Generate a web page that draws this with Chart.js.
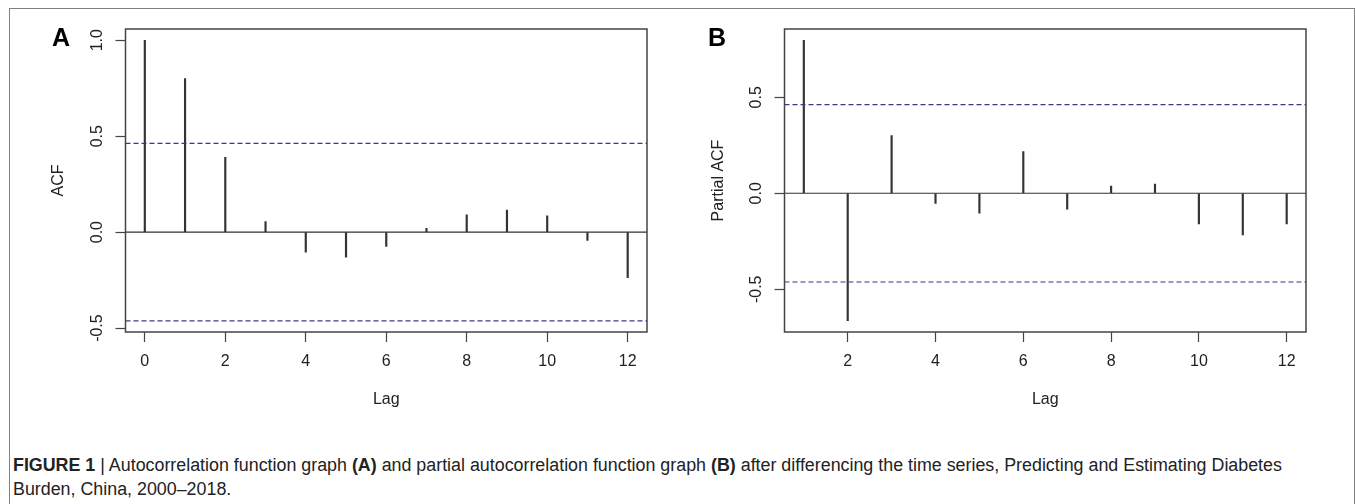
<!DOCTYPE html>
<html>
<head>
<meta charset="utf-8">
<script src="https://cdn.jsdelivr.net/npm/chart.js@4.4.0/dist/chart.umd.min.js"></script>
<style>
html,body{margin:0;padding:0;background:#fff;}
body{width:1355px;height:504px;position:relative;overflow:hidden;font-family:"Liberation Sans",Arial,sans-serif;}
#frame{position:absolute;left:9px;top:8px;width:1346px;height:540px;border:1.5px solid #808080;box-sizing:border-box;}
.wrap{position:absolute;top:0;height:440px;}
#wrapA{left:0;width:677px;}
#wrapB{left:677px;width:678px;}
.tag{position:absolute;top:25px;font:bold 25px/25px "Liberation Sans",Arial,sans-serif;color:#000;}
.cap{position:absolute;left:13px;font-size:17.85px;line-height:20px;color:#222;white-space:nowrap;}
</style>
</head>
<body>
<div id="frame"></div>
<div class="wrap" id="wrapA"><canvas id="chartA" width="677" height="440"></canvas></div>
<div class="wrap" id="wrapB"><canvas id="chartB" width="678" height="440"></canvas></div>
<div class="tag" style="left:52px">A</div>
<div class="tag" style="left:708px">B</div>
<div class="cap" style="top:455px"><b>FIGURE 1</b> | Autocorrelation function graph <b>(A)</b> and partial autocorrelation function graph <b>(B)</b> after differencing the time series, Predicting and Estimating Diabetes</div>
<div class="cap" style="top:479px">Burden, China, 2000–2018.</div>
<script>
// ================== Data ==================
const lagsA = [0, 1, 2, 3, 4, 5, 6, 7, 8, 9, 10, 11, 12];
const acfA = [1.0, 0.80, 0.39, 0.055, -0.105, -0.13, -0.075, 0.02, 0.09, 0.115, 0.085, -0.043, -0.238];
const lagsB = [1, 2, 3, 4, 5, 6, 7, 8, 9, 10, 11, 12];
const pacfB = [0.797, -0.664, 0.30, -0.053, -0.103, 0.217, -0.083, 0.038, 0.048, -0.16, -0.217, -0.16];
const climA = 0.462;
const climB = 0.462;
const xTicksA = [0, 2, 4, 6, 8, 10, 12];
const xTicksB = [2, 4, 6, 8, 10, 12];
const yTicksA = [-0.5, 0, 0.5, 1.0];
const yTicksB = [-0.5, 0, 0.5];

// R style axis range: data range stretched by 4% each side
function rRange(vals){
  const lo = Math.min(...vals), hi = Math.max(...vals);
  const d = (hi - lo) * 0.04;
  return [lo - d, hi + d];
}

const FONT = '"Liberation Sans", Arial, sans-serif';
const INK = '#222';
const FS = 16;

// box round the plot + rotated y tick labels (R look)
const boxAndLabels = {
  id: 'boxAndLabels',
  afterDraw(chart){
    const { ctx, chartArea: a, scales: { y } } = chart;
    ctx.save();
    ctx.strokeStyle = '#444'; ctx.lineWidth = 1.5;
    ctx.strokeRect(a.left, a.top, a.right - a.left, a.bottom - a.top);
    ctx.fillStyle = INK; ctx.font = FS + 'px ' + FONT;
    ctx.textAlign = 'center'; ctx.textBaseline = 'middle';
    y.ticks.forEach(t => {
      ctx.save();
      ctx.translate(a.left - 27.5, y.getPixelForValue(t.value));
      ctx.rotate(-Math.PI / 2);
      ctx.fillText(t.value.toFixed(1), 0, 0);
      ctx.restore();
    });
    ctx.restore();
  }
};

function makePanel(id, lags, vals, clim, xTicks, yTicks, yTitle, o){
  const [xMin, xMax] = rRange(lags);
  const [yMin, yMax] = rRange(vals.concat([clim, -clim]));
  const hline = (v, color, dash) => ({
    type: 'line',
    data: [{ x: xMin, y: v }, { x: xMax, y: v }],
    borderColor: color, borderWidth: 1.2, borderDash: dash,
    pointRadius: 0, fill: false
  });
  return new Chart(document.getElementById(id), {
    type: 'bar',
    data: {
      datasets: [
        hline(0, '#333', []),
        hline(clim, '#3a3a86', [5, 3]),
        hline(-clim, '#3a3a86', [5, 3]),
        {
          type: 'bar',
          data: lags.map((x, i) => ({ x, y: vals[i] })),
          backgroundColor: '#333',
          barThickness: 1.5,
          grouped: false
        }
      ]
    },
    options: {
      responsive: false,
      animation: false,
      devicePixelRatio: 1,
      layout: { padding: { left: 0, top: 29, right: o.right, bottom: 0 } },
      plugins: { legend: { display: false }, tooltip: { enabled: false } },
      scales: {
        x: {
          type: 'linear', min: xMin, max: xMax, offset: false,
          afterBuildTicks: s => { s.ticks = xTicks.map(v => ({ value: v })); },
          ticks: { font: { size: FS, family: FONT }, color: INK, padding: 10, maxRotation: 0, autoSkip: false, callback: v => String(v) },
          grid: { drawOnChartArea: false, offset: false, tickLength: 10, color: '#444', tickWidth: 1.2 },
          border: { display: false },
          title: { display: true, text: 'Lag', font: { size: FS, family: FONT }, color: INK, padding: { top: 0, bottom: 31 } },
          afterFit: s => { s.height = 108; }
        },
        y: {
          type: 'linear', min: yMin, max: yMax,
          afterBuildTicks: s => { s.ticks = yTicks.map(v => ({ value: v })); },
          ticks: { display: false },
          grid: { drawOnChartArea: false, tickLength: 10, color: '#444', tickWidth: 1.2 },
          border: { display: false },
          title: { display: true, text: yTitle, font: { size: FS, family: FONT }, color: INK, padding: { top: o.titlePad, bottom: 0 } },
          afterFit: s => { s.width = o.yWidth; }
        }
      }
    },
    plugins: [boxAndLabels]
  });
}

makePanel('chartA', lagsA, acfA, climA, xTicksA, yTicksA, 'ACF', { right: 30, yWidth: 125.5, titlePad: 49 });
makePanel('chartB', lagsB, pacfB, climB, xTicksB, yTicksB, 'Partial ACF', { right: 49, yWidth: 107.5, titlePad: 32 });
</script>
</body>
</html>
